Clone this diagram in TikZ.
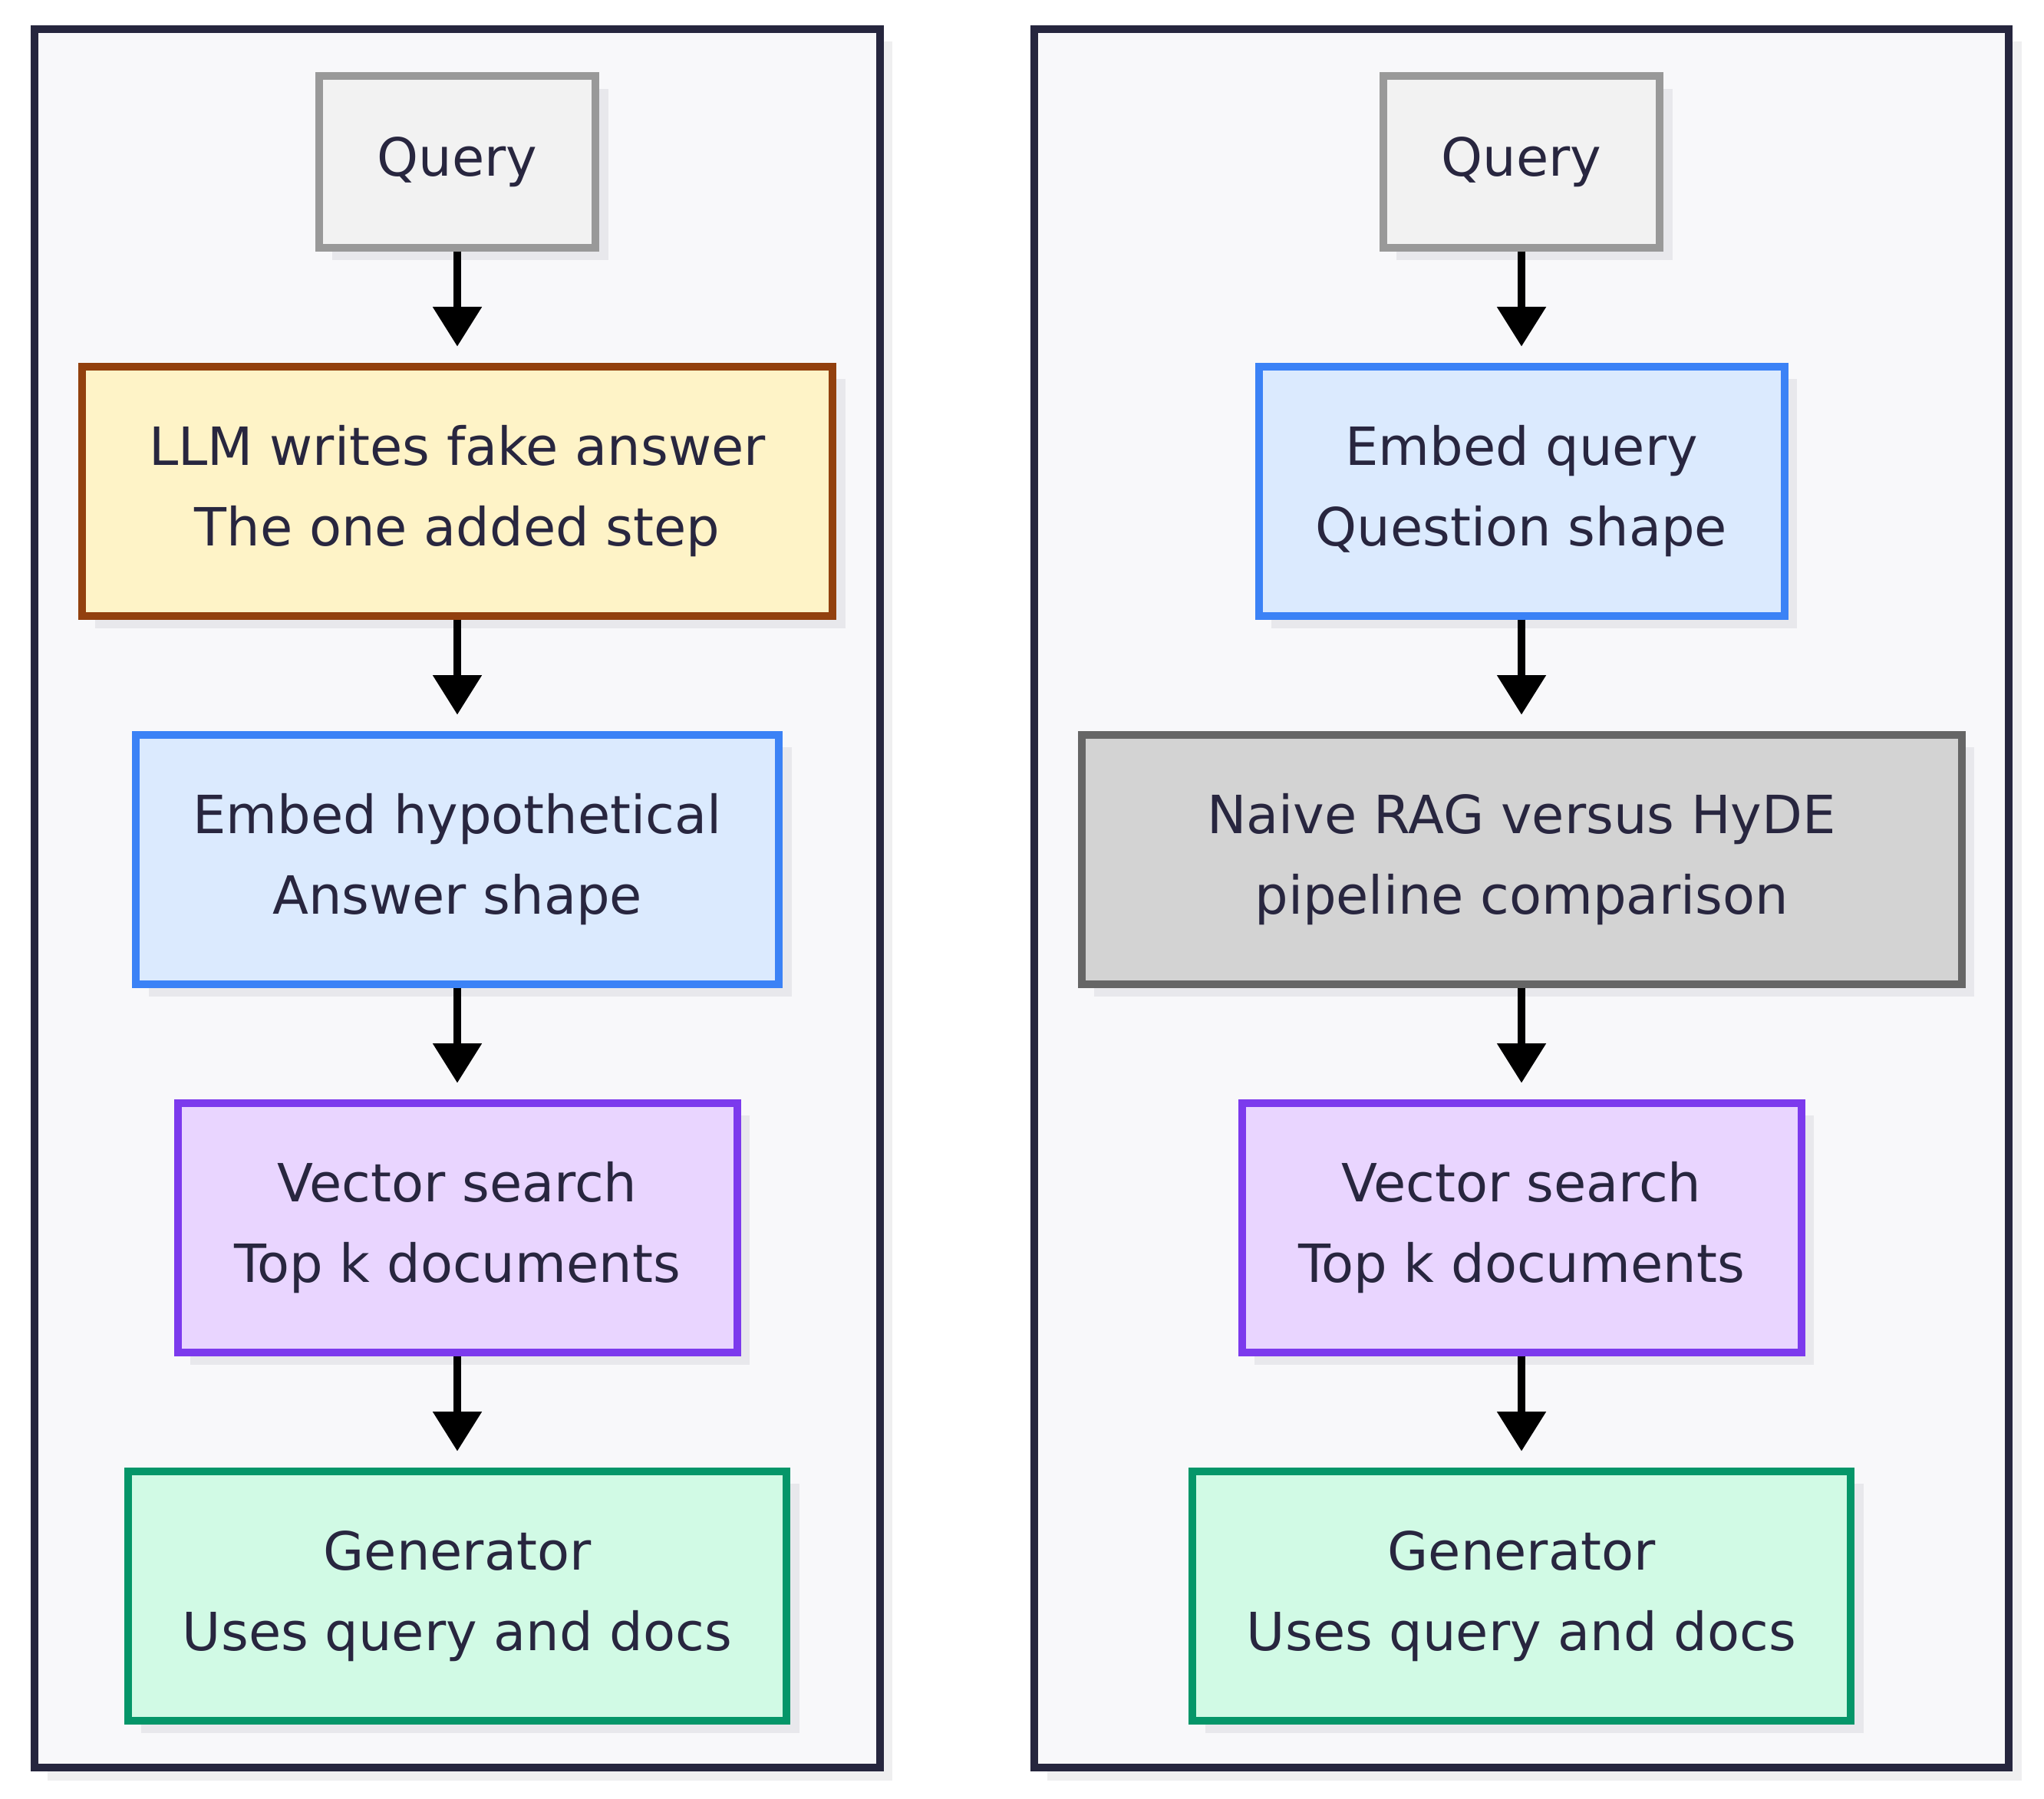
\documentclass[tikz,border=0pt]{standalone}
\usepackage{fontspec}
\setmainfont{DejaVu Sans}
\usepackage{xcolor}
\usepackage{tikz}
\usetikzlibrary{arrows.meta,positioning,fit,shadows,backgrounds}

\definecolor{ink}{HTML}{28263F}
\definecolor{frame}{HTML}{26263E}
\definecolor{clusterfill}{HTML}{F8F8FA}
\definecolor{nodeshade}{HTML}{E8E8EC}
\definecolor{clustershade}{HTML}{EFEFF0}

\begin{document}
\begin{tikzpicture}[
    font=\fontsize{20.6pt}{31.5pt}\selectfont,
    text=ink,
    node distance=43.5pt,
    box/.style={draw, line width=3pt, align=center, inner sep=0pt, minimum height=97.5pt,
        drop shadow={shadow xshift=5pt, shadow yshift=-5pt, fill=nodeshade, opacity=1}},
    querybox/.style={box, fill=black!5, draw=black!40, minimum width=108pt, minimum height=67pt},
    fakestep/.style={box, fill={rgb,255:red,254;green,243;blue,199}, draw={rgb,255:red,146;green,64;blue,14}},
    embedstep/.style={box, fill={rgb,255:red,219;green,234;blue,254}, draw={rgb,255:red,59;green,130;blue,246}},
    searchstep/.style={box, fill={rgb,255:red,233;green,213;blue,255}, draw={rgb,255:red,124;green,58;blue,237}, minimum width=218.7pt},
    genstep/.style={box, fill={rgb,255:red,209;green,250;blue,229}, draw={rgb,255:red,5;green,150;blue,105}, minimum width=257.4pt},
    notebox/.style={box, fill={rgb,255:red,211;green,211;blue,211}, draw={rgb,255:red,102;green,102;blue,102}},
    cluster/.style={draw=frame, fill=clusterfill, line width=3pt, inner sep=17pt,
        drop shadow={shadow xshift=5pt, shadow yshift=-5pt, fill=clustershade, opacity=1}},
    line/.style={-{Triangle[length=15.5pt, width=18.5pt]}, line width=3pt, shorten >=6.3pt}
]
\useasboundingbox (0,0) rectangle (799.2pt,-703.2pt);

\node[querybox] (hQuery) at (178.8pt,-63.3pt) {Query};
\node[fakestep, minimum width=293.4pt, below=of hQuery] (hFake) {LLM writes fake answer\\The one added step};
\node[embedstep, minimum width=251.4pt, below=of hFake] (hEmbed) {Embed hypothetical\\Answer shape};
\node[searchstep, below=of hEmbed] (hSearch) {Vector search\\Top k documents};
\node[genstep, below=of hSearch] (hGen) {Generator\\Uses query and docs};

\node[querybox] (nQuery) at (594.9pt,-63.3pt) {Query};
\node[embedstep, minimum width=205.5pt, below=of nQuery] (nEmbed) {Embed query\\Question shape};
\node[notebox, minimum width=344.1pt, below=of nEmbed] (nNote) {Naive RAG versus HyDE\\pipeline comparison};
\node[searchstep, below=of nNote] (nSearch) {Vector search\\Top k documents};
\node[genstep, below=of nSearch] (nGen) {Generator\\Uses query and docs};

\draw[line] (hQuery) -- (hFake);
\draw[line] (hFake) -- (hEmbed);
\draw[line] (hEmbed) -- (hSearch);
\draw[line] (hSearch) -- (hGen);
\draw[line] (nQuery) -- (nEmbed);
\draw[line] (nEmbed) -- (nNote);
\draw[line] (nNote) -- (nSearch);
\draw[line] (nSearch) -- (nGen);

\begin{scope}[on background layer]
\node[cluster, fit=(hQuery)(hFake)(hEmbed)(hSearch)(hGen)] (hydeBox) {};
\node[cluster, fit=(nQuery)(nEmbed)(nNote)(nSearch)(nGen)] (naiveBox) {};
\end{scope}
\end{tikzpicture}
\end{document}
